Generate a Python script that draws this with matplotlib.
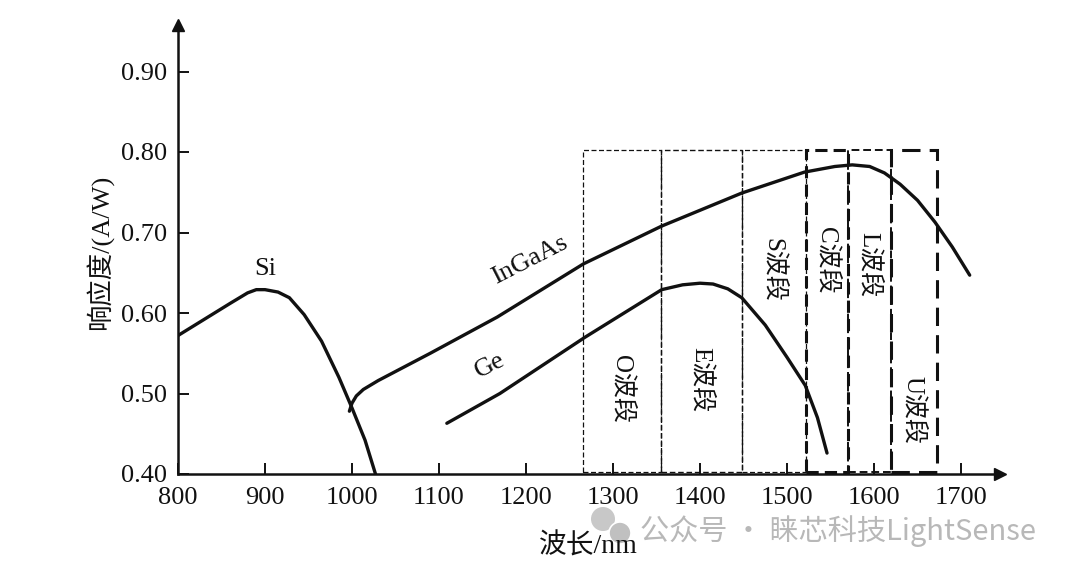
import numpy as np
import matplotlib.pyplot as plt
from matplotlib.patches import Rectangle, Ellipse

# responsivity curves (wavelength nm, A/W)
si_wl = [800, 830, 860, 880, 890, 900, 915, 928, 945, 965, 985, 1000, 1015, 1027]
si_r = [0.572, 0.592, 0.612, 0.625, 0.629, 0.629, 0.626, 0.619, 0.598, 0.565, 0.520, 0.482, 0.442, 0.400]

ingaas_wl = [997, 1000, 1005, 1013, 1030, 1090, 1167, 1266, 1356, 1448, 1520, 1555, 1575, 1595, 1612, 1630, 1650, 1670, 1690, 1710]
ingaas_r = [0.478, 0.488, 0.497, 0.505, 0.516, 0.550, 0.595, 0.661, 0.708, 0.749, 0.775, 0.782, 0.784, 0.782, 0.774, 0.760, 0.740, 0.713, 0.682, 0.647]

ge_wl = [1109, 1170, 1268, 1356, 1380, 1400, 1415, 1432, 1448, 1475, 1500, 1521, 1535, 1546]
ge_r = [0.463, 0.500, 0.570, 0.629, 0.635, 0.637, 0.636, 0.630, 0.619, 0.585, 0.545, 0.510, 0.470, 0.426]

# optical bands
band_names = ['O波段', 'E波段', 'S波段', 'C波段', 'L波段', 'U波段']
band_start = [1265, 1355, 1448, 1522, 1570, 1620]
band_end = [1355, 1448, 1522, 1570, 1620, 1672]
band_label_y = [0.505, 0.517, 0.653, 0.666, 0.660, 0.480]
band_lw = [0.9, 1.0, 0.9, 2.2, 1.4, 2.2]
band_dash = [(4, 2), (4, 2), (4, 2), (4, 2), (4, 2), (6, 3)]

xticks = [800, 900, 1000, 1100, 1200, 1300, 1400, 1500, 1600, 1700]
yticks = [0.40, 0.50, 0.60, 0.70, 0.80, 0.90]

serif = ['Liberation Serif', 'Noto Sans CJK SC']
ink = '#111111'

fig = plt.figure(figsize=(10.8, 5.74), dpi=100)
ax = fig.add_axes([178 / 1080, 100 / 574, (1000 - 178) / 1080, (474 - 25) / 574])
ax.set_xlim(800, 800 + (1000 - 178) / 0.87)
ax.set_ylim(0.40, 0.40 + 449 / 805)

for s in ['top', 'right']:
    ax.spines[s].set_visible(False)
for s in ['left', 'bottom']:
    ax.spines[s].set_linewidth(1.8)
    ax.spines[s].set_color(ink)

# arrow heads on the axes
ax.plot(0, 1, marker='^', markersize=9, color=ink, transform=ax.transAxes, clip_on=False)
ax.plot(1, 0, marker='>', markersize=9, color=ink, transform=ax.transAxes, clip_on=False)

ax.set_xticks(xticks)
ax.set_xticklabels([str(t) for t in xticks], fontsize=19, family=serif)
ax.set_yticks(yticks)
ax.set_yticklabels([f'{t:.2f}' for t in yticks], fontsize=19, family=serif)
ax.tick_params(direction='in', length=8, width=1.4, colors=ink, pad=8)
ax.tick_params(axis='x', pad=9)

ax.plot(si_wl, si_r, color=ink, lw=2.4, solid_capstyle='round', solid_joinstyle='round')
ax.plot(ingaas_wl, ingaas_r, color=ink, lw=2.4, solid_capstyle='round', solid_joinstyle='round')
ax.plot(ge_wl, ge_r, color=ink, lw=2.4, solid_capstyle='round', solid_joinstyle='round')

for name, x0, x1, ly, lw, dash in zip(band_names, band_start, band_end, band_label_y, band_lw, band_dash):
    rect = Rectangle((x0, 0.402), x1 - x0, 0.802 - 0.402, fill=False, edgecolor=ink,
                     lw=lw, linestyle=(0, dash))
    ax.add_patch(rect)
    ax.text((x0 + x1) / 2, ly, name, rotation=-90, ha='center', va='center',
            fontsize=18, family=serif, color=ink)

ax.text(900, 0.655, 'Si', fontsize=19, family=serif, ha='center', va='center', color=ink)
ax.text(1205, 0.666, 'InGaAs', fontsize=19, family=serif, ha='center', va='center',
        rotation=27, color=ink)
ax.text(1158, 0.535, 'Ge', fontsize=19, family=serif, ha='center', va='center',
        rotation=27, color=ink)

fig.text(100 / 1080, 1 - 252 / 574, '响应度/(A/W)', rotation=90, fontsize=19, family=serif,
         ha='center', va='center', color=ink)
fig.text(588 / 1080, 1 - 546 / 574, '波长/nm', fontsize=20, family=serif,
         ha='center', va='center', color=ink)

# watermark
fig.add_artist(Ellipse((603 / 1080, 1 - 519 / 574), 24 / 1080, 24 / 574, transform=fig.transFigure,
                       facecolor='#c8c8c8', edgecolor='none'))
fig.add_artist(Ellipse((620 / 1080, 1 - 533 / 574), 22 / 1080, 22 / 574, transform=fig.transFigure,
                       facecolor='#c0c0c0', edgecolor='white', lw=1.2))
fig.text(640 / 1080, 1 - 531 / 574, '公众号 · 睐芯科技LightSense', fontsize=21,
         family=['Noto Sans CJK SC', 'DejaVu Sans'], color='#b8b8b8', ha='left', va='center')

fig.savefig('out.png', dpi=100, facecolor='white')
